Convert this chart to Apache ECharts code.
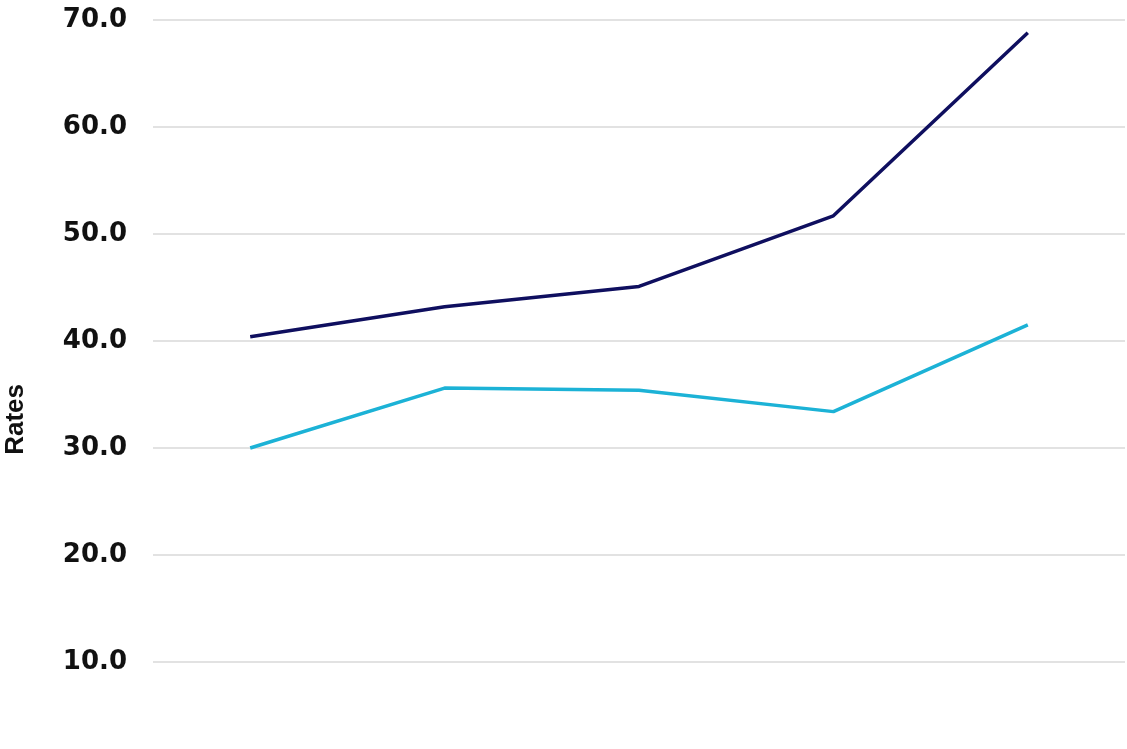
<!DOCTYPE html>
<html>
<head>
<meta charset="utf-8">
<script src="https://cdn.jsdelivr.net/npm/echarts@6/dist/echarts.min.js"></script>
<style>html,body{margin:0;padding:0;background:#fff}#c{width:1127px;height:749px}</style>
</head>
<body>
<div id="c"></div>
<script>
const categories = ['1', '2', '3', '4', '5'];
const seriesDark = [40.4, 43.2, 45.1, 51.7, 68.8];
const seriesLight = [30.0, 35.6, 35.4, 33.4, 41.5];
const yTicks = [10, 20, 30, 40, 50, 60, 70];
const yTitle = 'Rates';

const chart = echarts.init(document.getElementById('c'));
chart.setOption({
  animation: false,
  backgroundColor: '#fff',
  grid: { left: 153, right: 2, top: 20, bottom: 87, containLabel: false },
  xAxis: {
    type: 'category', data: categories, boundaryGap: true,
    axisLine: { show: false }, axisTick: { show: false }, axisLabel: { show: false }
  },
  yAxis: {
    type: 'value', min: yTicks[0], max: yTicks[yTicks.length - 1], interval: 10,
    axisLine: { show: false }, axisTick: { show: false },
    splitLine: { lineStyle: { color: '#e2e2e2', width: 2 } },
    axisLabel: {
      formatter: v => v.toFixed(1), margin: 26,
      fontFamily: 'DejaVu Sans', fontWeight: 'bold', fontSize: 26, color: '#111'
    }
  },
  graphic: [{
    type: 'text', left: 3, top: 384, rotation: Math.PI / 2,
    style: { text: yTitle, font: 'bold 26px "Liberation Sans"', fill: '#111' }
  }],
  series: [
    { type: 'line', data: seriesDark, symbol: 'none', lineStyle: { color: '#0f0f5f', width: 3.5 } },
    { type: 'line', data: seriesLight, symbol: 'none', lineStyle: { color: '#1cb2d6', width: 3.5 } }
  ]
});
</script>
</body>
</html>
